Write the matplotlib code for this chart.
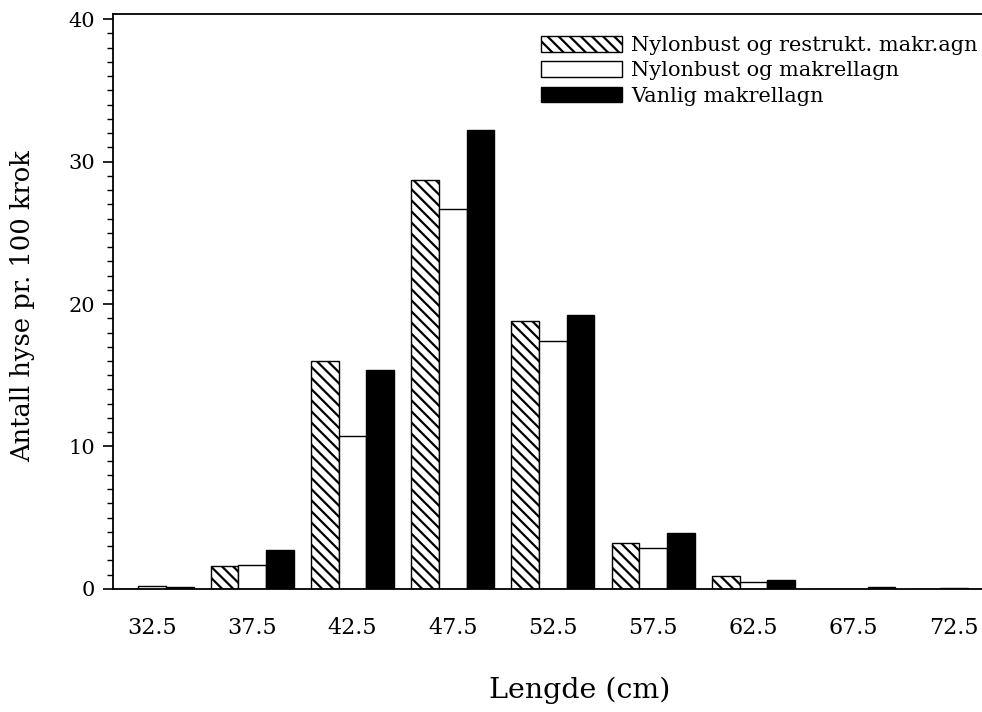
import numpy as np
import matplotlib
matplotlib.use('Agg')
import matplotlib.pyplot as plt
from matplotlib.ticker import MultipleLocator

# lengdegrupper (cm)
lengde = [32.5, 37.5, 42.5, 47.5, 52.5, 57.5, 62.5, 67.5, 72.5]

# antall hyse pr. 100 krok
restrukt = [0.0, 1.6, 16.0, 28.7, 18.8, 3.2, 0.9, 0.0, 0.0]
nylon_makrell = [0.2, 1.7, 10.7, 26.7, 17.4, 2.9, 0.5, 0.0, 0.05]
vanlig = [0.1, 2.7, 15.4, 32.2, 19.2, 3.9, 0.6, 0.1, 0.0]

labels = ['Nylonbust og restrukt. makr.agn',
          'Nylonbust og makrellagn',
          'Vanlig makrellagn']

plt.rcParams['font.family'] = ['DejaVu Serif']
plt.rcParams['hatch.linewidth'] = 1.6

fig = plt.figure(figsize=(9.82, 7.12), dpi=100)
ax = fig.add_axes([0.115, 0.173, 0.885, 0.808])

x = np.array(lengde)
w = 1.38
ax.bar(x - w, restrukt, w, facecolor='white', edgecolor='black', hatch='\\\\\\',
       linewidth=1, label=labels[0])
ax.bar(x, nylon_makrell, w, facecolor='white', edgecolor='black',
       linewidth=1, label=labels[1])
ax.bar(x + w, vanlig, w, facecolor='black', edgecolor='black',
       linewidth=1, label=labels[2])

ax.set_xlim(30.55, 73.9)
ax.set_ylim(0, 40.4)
ax.set_xticks(lengde)
ax.set_xticklabels([str(v) for v in lengde], fontsize=16)
ax.tick_params(axis='x', length=0, pad=20)
ax.yaxis.set_major_locator(MultipleLocator(10))
ax.yaxis.set_minor_locator(MultipleLocator(1))
ax.tick_params(axis='y', which='major', length=7, width=1.2, labelsize=15, pad=6)
ax.tick_params(axis='y', which='minor', length=4, width=1)

ax.spines['right'].set_visible(False)
for s in ['left', 'top', 'bottom']:
    ax.spines[s].set_linewidth(1.3)

ax.set_ylabel('Antall hyse pr. 100 krok', fontsize=18.5)
ax.yaxis.set_label_coords(-0.09, 0.491)
ax.set_xlabel('Lengde (cm)', fontsize=20.5)
ax.xaxis.set_label_coords(0.537, -0.152)

ax.legend(loc='upper right', bbox_to_anchor=(1.0, 0.968), frameon=False,
          fontsize=15, handlelength=3.9, handleheight=0.77, handletextpad=0.45,
          labelspacing=0.3, borderaxespad=0.0, borderpad=0.2)

fig.savefig('out.png', dpi=100)
